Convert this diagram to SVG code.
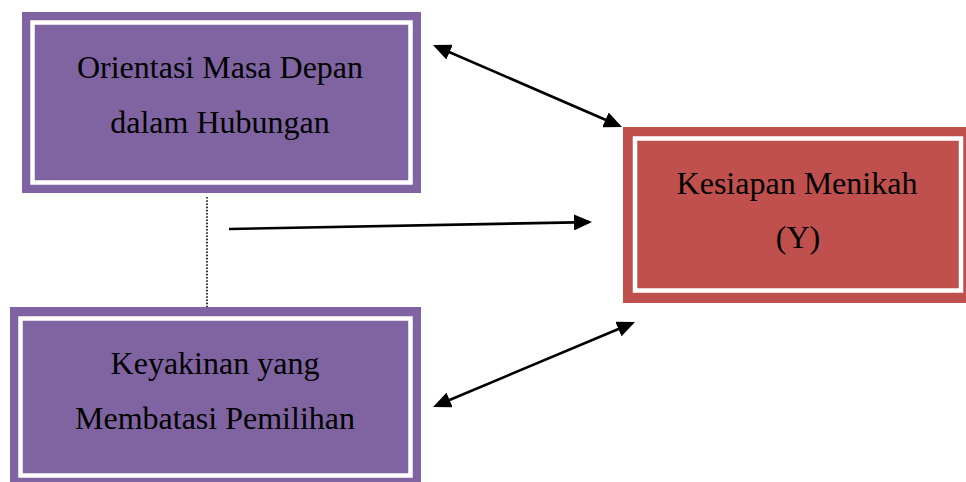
<svg xmlns="http://www.w3.org/2000/svg" width="966" height="482" viewBox="0 0 966 482">
<style>
.txt{font-family:"Liberation Serif","Times New Roman",serif;font-size:32px;fill:#000;text-anchor:middle}
.purple{fill:#8064A2}
.red{fill:#C0504D}
.inner{fill:none;stroke:#fff;stroke-width:4.5}
.conn{stroke:#000;stroke-width:2.6;fill:none}
</style>
<defs>
<marker id="ah" markerUnits="userSpaceOnUse" viewBox="0 0 18 16" markerWidth="18" markerHeight="16" refX="15" refY="8" orient="auto-start-reverse">
<path d="M0,0 L18,8 L0,16 z" fill="#000"/>
</marker>
</defs>
<rect width="966" height="482" fill="#fff"/>
<g id="node-orientasi">
<rect class="purple" x="22" y="12" width="399" height="181"/>
<rect class="inner" x="32.5" y="22.5" width="378" height="160"/>
<text class="txt" x="220" y="78">Orientasi Masa Depan</text>
<text class="txt" x="220" y="133">dalam Hubungan</text>
</g>
<g id="node-keyakinan">
<rect class="purple" x="10" y="307" width="411" height="175"/>
<rect class="inner" x="20.5" y="318.5" width="390" height="157"/>
<text class="txt" x="215" y="374">Keyakinan yang</text>
<text class="txt" x="215" y="429">Membatasi Pemilihan</text>
</g>
<g id="node-kesiapan">
<rect class="red" x="623" y="127" width="343" height="176"/>
<rect class="inner" x="635" y="138.5" width="326" height="152"/>
<text class="txt" x="797" y="194">Kesiapan Menikah</text>
<text class="txt" x="798" y="248">(Y)</text>
</g>
<g id="connectors">
<line x1="207" y1="197" x2="207" y2="307" stroke="#000" stroke-width="1.6" stroke-dasharray="1.6 1.6"/>
<line class="conn" x1="435.8" y1="46.2" x2="619.2" y2="125.8" marker-start="url(#ah)" marker-end="url(#ah)"/>
<line class="conn" x1="229" y1="229" x2="589" y2="222.1" marker-end="url(#ah)"/>
<line class="conn" x1="632.2" y1="323.2" x2="435.8" y2="405.8" marker-start="url(#ah)" marker-end="url(#ah)"/>
</g>
</svg>
